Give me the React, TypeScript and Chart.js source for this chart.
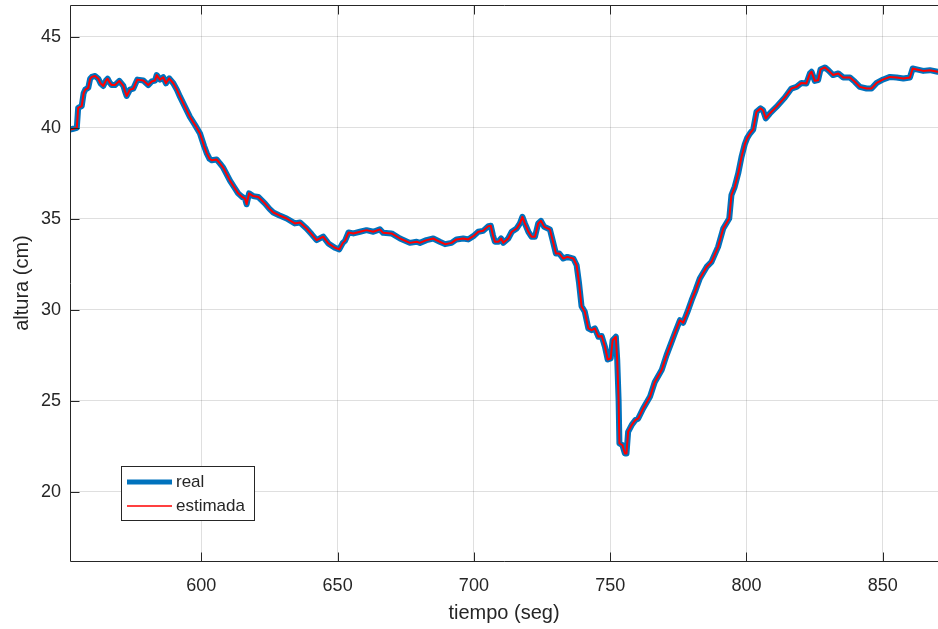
import React, { useEffect, useRef } from 'react';
import { Chart, registerables } from 'chart.js';

Chart.register(...registerables);

// ---- data ----
const tiempo = [
  551.8, 553.0, 554.3, 554.8, 556.1, 556.8, 557.4, 558.5, 559.2, 559.8,
  561.0, 562.2, 563.0, 564.0, 565.0, 565.6, 566.3, 567.1, 568.3, 569.9,
  571.4, 572.0, 572.6, 573.8, 575.0, 576.5, 578.7, 580.5, 581.8, 583.0,
  583.6, 584.8, 586.0, 587.0, 588.2, 589.7, 591.0, 592.2, 594.0, 595.8,
  597.7, 599.5, 601.0, 602.0, 603.0, 603.8, 605.6, 606.8, 608.0, 610.5,
  612.0, 613.5, 615.0, 616.0, 616.6, 617.5, 619.0, 620.9, 623.3, 625.0,
  626.4, 628.5, 631.3, 634.3, 636.2, 638.6, 640.5, 642.3, 644.7, 646.6,
  649.0, 650.6, 651.9, 652.7, 654.0, 655.8, 658.2, 660.6, 663.1, 665.5,
  666.7, 669.8, 672.9, 676.5, 679.0, 680.2, 682.6, 685.1, 687.5, 689.4,
  691.8, 693.6, 696.1, 697.9, 699.8, 701.6, 703.4, 705.3, 706.2, 707.0,
  707.7, 709.0, 710.0, 710.8, 712.6, 713.9, 715.7, 716.9, 717.8, 718.7,
  720.0, 721.2, 722.4, 723.6, 724.6, 725.8, 727.9, 728.9, 730.1, 731.3,
  732.8, 734.3, 736.5, 737.7, 738.6, 739.5, 740.7, 742.0, 743.2, 744.4,
  745.7, 746.9, 748.1, 749.1, 750.2, 750.9, 752.1, 752.6, 753.1, 753.4,
  754.5, 755.4, 756.0, 756.6, 757.9, 759.2, 760.3, 762.1, 764.6, 766.4,
  768.9, 770.7, 772.2, 773.7, 775.6, 776.8, 778.4, 779.9, 781.4, 782.9,
  785.4, 787.2, 789.6, 791.5, 793.7, 794.5, 795.7, 797.0, 798.2, 799.4,
  800.3, 801.3, 802.5, 803.7, 805.2, 806.1, 807.1, 808.6, 811.0, 814.1,
  816.5, 818.4, 820.2, 822.0, 823.3, 823.9, 825.1, 826.3, 827.2, 828.8,
  830.0, 831.8, 833.7, 835.5, 838.0, 839.8, 841.6, 844.1, 845.9, 847.8,
  850.2, 852.7, 855.1, 857.6, 860.0, 861.0, 862.5, 864.9, 867.3, 870.2,
];

const alturaReal = [
  39.9, 39.95, 40.0, 41.1, 41.2, 41.9, 42.1, 42.2, 42.7, 42.8,
  42.85, 42.7, 42.45, 42.3, 42.6, 42.7, 42.5, 42.35, 42.35, 42.58,
  42.3, 42.0, 41.75, 42.1, 42.15, 42.65, 42.6, 42.35, 42.55, 42.6,
  42.9, 42.65, 42.78, 42.45, 42.72, 42.45, 42.1, 41.7, 41.15, 40.6,
  40.15, 39.69, 39.0, 38.6, 38.3, 38.22, 38.26, 38.05, 37.82, 37.1,
  36.75, 36.4, 36.2, 36.12, 35.8, 36.4, 36.25, 36.2, 35.85, 35.55,
  35.35, 35.2, 35.02, 34.75, 34.8, 34.47, 34.15, 33.83, 34.02, 33.65,
  33.41, 33.32, 33.68, 33.79, 34.25, 34.2, 34.29, 34.38, 34.29, 34.42,
  34.23, 34.2, 33.92, 33.68, 33.74, 33.68, 33.83, 33.92, 33.74, 33.61,
  33.68, 33.87, 33.92, 33.87, 34.05, 34.29, 34.34, 34.6, 34.62, 34.1,
  33.74, 33.74, 33.92, 33.68, 33.92, 34.29, 34.47, 34.75, 35.11, 34.75,
  34.29, 34.01, 34.01, 34.75, 34.89, 34.56, 34.42, 33.83, 33.1, 33.1,
  32.82, 32.91, 32.82, 32.45, 31.45, 30.2, 29.89, 28.98, 28.88, 28.98,
  28.52, 28.56, 27.97, 27.27, 27.33, 28.33, 28.52, 27.24, 25.04, 22.66,
  22.57, 22.11, 22.11, 23.3, 23.67, 23.94, 24.03, 24.58, 25.22, 26.04,
  26.69, 27.51, 28.1, 28.7, 29.43, 29.29, 29.9, 30.53, 31.1, 31.72,
  32.36, 32.64, 33.46, 34.47, 35.02, 36.3, 36.76, 37.5, 38.4, 39.1,
  39.45, 39.69, 39.91, 40.88, 41.07, 40.97, 40.52, 40.79, 41.15, 41.67,
  42.16, 42.25, 42.47, 42.44, 42.99, 43.08, 42.58, 42.62, 43.21, 43.32,
  43.17, 42.9, 42.99, 42.77, 42.77, 42.53, 42.25, 42.16, 42.16, 42.47,
  42.66, 42.8, 42.77, 42.71, 42.77, 43.26, 43.21, 43.13, 43.17, 43.08,
];

const alturaEstimada = [
  39.9, 39.95, 40.0, 41.1, 41.2, 41.9, 42.1, 42.2, 42.7, 42.8,
  42.85, 42.7, 42.45, 42.3, 42.6, 42.7, 42.5, 42.35, 42.35, 42.58,
  42.3, 42.0, 41.75, 42.1, 42.15, 42.65, 42.6, 42.35, 42.55, 42.6,
  42.9, 42.65, 42.78, 42.45, 42.72, 42.45, 42.1, 41.7, 41.15, 40.6,
  40.15, 39.69, 39.0, 38.6, 38.3, 38.22, 38.26, 38.05, 37.82, 37.1,
  36.75, 36.4, 36.2, 36.12, 35.8, 36.4, 36.25, 36.2, 35.85, 35.55,
  35.35, 35.2, 35.02, 34.75, 34.8, 34.47, 34.15, 33.83, 34.02, 33.65,
  33.41, 33.32, 33.68, 33.79, 34.25, 34.2, 34.29, 34.38, 34.29, 34.42,
  34.23, 34.2, 33.92, 33.68, 33.74, 33.68, 33.83, 33.92, 33.74, 33.61,
  33.68, 33.87, 33.92, 33.87, 34.05, 34.29, 34.34, 34.6, 34.62, 34.1,
  33.74, 33.74, 33.92, 33.68, 33.92, 34.29, 34.47, 34.75, 35.11, 34.75,
  34.29, 34.01, 34.01, 34.75, 34.89, 34.56, 34.42, 33.83, 33.1, 33.1,
  32.82, 32.91, 32.82, 32.45, 31.45, 30.2, 29.89, 28.98, 28.88, 28.98,
  28.52, 28.56, 27.97, 27.27, 27.33, 28.33, 28.52, 27.24, 25.04, 22.66,
  22.57, 22.11, 22.11, 23.3, 23.67, 23.94, 24.03, 24.58, 25.22, 26.04,
  26.69, 27.51, 28.1, 28.7, 29.43, 29.29, 29.9, 30.53, 31.1, 31.72,
  32.36, 32.64, 33.46, 34.47, 35.02, 36.3, 36.76, 37.5, 38.4, 39.1,
  39.45, 39.69, 39.91, 40.88, 41.07, 40.97, 40.52, 40.79, 41.15, 41.67,
  42.16, 42.25, 42.47, 42.44, 42.99, 43.08, 42.58, 42.62, 43.21, 43.32,
  43.17, 42.9, 42.99, 42.77, 42.77, 42.53, 42.25, 42.16, 42.16, 42.47,
  42.66, 42.8, 42.77, 42.71, 42.77, 43.26, 43.21, 43.13, 43.17, 43.08,
];

const xTicks = [600, 650, 700, 750, 800, 850];
const yTicks = [20, 25, 30, 35, 40, 45];
const xLimits = [551.8, 870.3];
const yLimits = [16.2, 46.75];
const seriesLabels = ['real', 'estimada'];
const xTitle = 'tiempo (seg)';
const yTitle = 'altura (cm)';

// ---- styles ----
const FONT = "'Liberation Sans', Arial, Helvetica, sans-serif";
const AXIS_COLOR = '#262626';
const GRID_COLOR = 'rgba(38,38,38,0.15)';
const BLUE = '#0072BD';
const RED = '#FF0000';
const W = 938;
const H = 629;

const matlabAxesPlugin = {
  id: 'matlabAxes',
  afterDatasetsDraw(chart: any) {
    const { ctx, chartArea, scales } = chart;
    const { left, top, right, bottom } = chartArea;
    const L = Math.round(left) + 0.5;
    const T = Math.round(top) + 0.5;
    const B = Math.round(bottom) + 0.5;
    const tick = 9;
    ctx.save();
    ctx.strokeStyle = AXIS_COLOR;
    ctx.lineWidth = 1;
    ctx.beginPath();
    ctx.moveTo(right + 2, T);
    ctx.lineTo(L, T);
    ctx.lineTo(L, B);
    ctx.lineTo(right + 2, B);
    for (const v of xTicks) {
      const px = Math.round(scales.x.getPixelForValue(v)) + 0.5;
      ctx.moveTo(px, B);
      ctx.lineTo(px, B - tick);
      ctx.moveTo(px, T);
      ctx.lineTo(px, T + tick);
    }
    for (const v of yTicks) {
      const py = Math.round(scales.y.getPixelForValue(v)) + 0.5;
      ctx.moveTo(L, py);
      ctx.lineTo(L + tick, py);
    }
    ctx.stroke();
    ctx.restore();
  },
};

const legendBoxPlugin = {
  id: 'legendBox',
  afterDraw(chart: any) {
    const { ctx } = chart;
    const bx = 121.5, by = 466.5, bw = 133, bh = 54;
    ctx.save();
    ctx.fillStyle = '#ffffff';
    ctx.fillRect(bx, by, bw, bh);
    ctx.strokeStyle = AXIS_COLOR;
    ctx.lineWidth = 1;
    ctx.strokeRect(bx, by, bw, bh);
    const rows = [482, 506];
    chart.data.datasets.forEach((ds: any, i: number) => {
      const y = rows[i];
      ctx.strokeStyle = ds.borderColor;
      ctx.lineWidth = i === 0 ? 5 : 1.5;
      ctx.beginPath();
      ctx.moveTo(127, y);
      ctx.lineTo(172, y);
      ctx.stroke();
      ctx.fillStyle = AXIS_COLOR;
      ctx.font = `17px ${FONT}`;
      ctx.textAlign = 'left';
      ctx.textBaseline = 'middle';
      ctx.fillText(ds.label, 176, y);
    });
    ctx.restore();
  },
};

export default function App() {
  const canvasRef = useRef<HTMLCanvasElement | null>(null);

  useEffect(() => {
    const canvas = canvasRef.current;
    if (!canvas) return;
    const realPts = tiempo.map((t, i) => ({ x: t, y: alturaReal[i] }));
    const estPts = tiempo.map((t, i) => ({ x: t, y: alturaEstimada[i] }));

    const chart = new Chart(canvas, {
      type: 'line',
      data: {
        datasets: [
          {
            label: seriesLabels[0],
            data: realPts,
            borderColor: BLUE,
            borderWidth: 6,
            borderJoinStyle: 'round',
            borderCapStyle: 'round',
            pointRadius: 0,
            tension: 0,
            fill: false,
            order: 2,
          },
          {
            label: seriesLabels[1],
            data: estPts,
            borderColor: RED,
            borderWidth: 2,
            borderJoinStyle: 'round',
            borderCapStyle: 'round',
            pointRadius: 0,
            tension: 0,
            fill: false,
            order: 1,
          },
        ],
      },
      options: {
        animation: false,
        responsive: false,
        maintainAspectRatio: false,
        devicePixelRatio: 1,
        layout: { padding: { top: 5, right: 0, left: 0, bottom: 0 } },
        plugins: {
          legend: { display: false },
          tooltip: { enabled: false },
        },
        scales: {
          x: {
            type: 'linear',
            min: xLimits[0],
            max: xLimits[1],
            afterBuildTicks: (scale: any) => {
              scale.ticks = xTicks.map((v) => ({ value: v }));
            },
            afterFit: (scale: any) => {
              scale.height = 68;
              scale.paddingLeft = 0;
              scale.paddingRight = 0;
            },
            ticks: {
              font: { family: FONT, size: 18 },
              color: AXIS_COLOR,
              padding: 14,
              maxRotation: 0,
              autoSkip: false,
              callback: (v: any) => String(v),
            },
            grid: { color: GRID_COLOR, lineWidth: 1, drawTicks: false },
            border: { display: false },
            title: {
              display: true,
              text: xTitle,
              font: { family: FONT, size: 20 },
              color: AXIS_COLOR,
              padding: { top: 0, bottom: 4 },
            },
          },
          y: {
            type: 'linear',
            min: yLimits[0],
            max: yLimits[1],
            afterBuildTicks: (scale: any) => {
              scale.ticks = yTicks.map((v) => ({ value: v }));
            },
            afterFit: (scale: any) => {
              scale.width = 70;
              scale.paddingTop = 0;
              scale.paddingBottom = 0;
            },
            ticks: {
              font: { family: FONT, size: 18 },
              color: AXIS_COLOR,
              padding: 9,
              autoSkip: false,
              callback: (v: any) => String(v),
            },
            grid: { color: GRID_COLOR, lineWidth: 1, drawTicks: false },
            border: { display: false },
            title: {
              display: true,
              text: yTitle,
              font: { family: FONT, size: 20 },
              color: AXIS_COLOR,
              padding: { top: 10, bottom: 0 },
            },
          },
        },
      },
      plugins: [matlabAxesPlugin, legendBoxPlugin],
    } as any);

    return () => {
      chart.destroy();
    };
  }, []);

  return (
    <div style={{ position: 'fixed', left: 0, top: 0, width: W, height: H, background: '#ffffff' }}>
      <canvas ref={canvasRef} width={W} height={H} style={{ width: W, height: H, display: 'block' }} />
    </div>
  );
}
